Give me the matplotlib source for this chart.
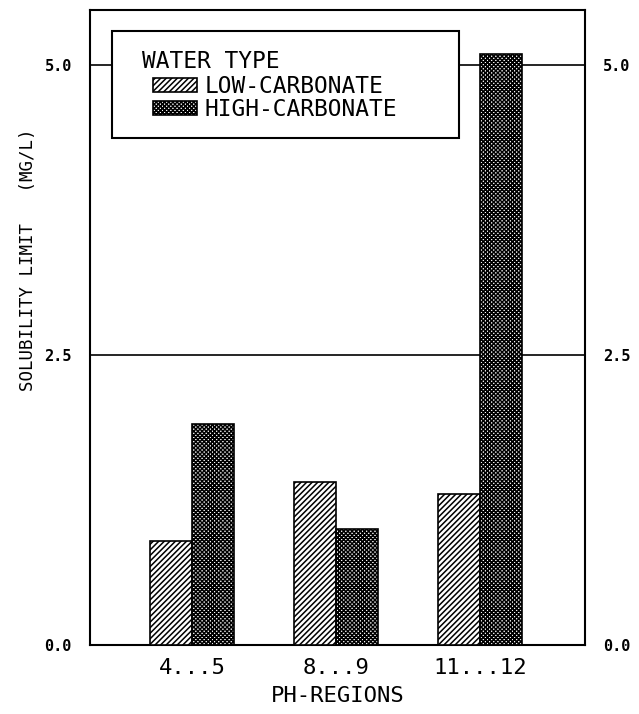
import numpy as np
import matplotlib.pyplot as plt
from matplotlib.patches import Rectangle

regions = ['4...5', '8...9', '11...12']
low_carbonate = [0.90, 1.40, 1.30]
high_carbonate = [1.90, 1.00, 5.09]
series_names = ['LOW-CARBONATE', 'HIGH-CARBONATE']
yticks = [0.0, 2.5, 5.0]

plt.rcParams['hatch.linewidth'] = 1.1
mono = 'DejaVu Sans Mono'

fig = plt.figure(figsize=(6.39, 7.14), dpi=100)
ax = fig.add_axes([0.1408, 0.0966, 0.7746, 0.8894])

x = np.arange(1, len(regions) + 1)
w = 0.29
b1 = ax.bar(x - w / 2, low_carbonate, w, color='white', edgecolor='black',
            hatch='//////', linewidth=1.2, zorder=3, label=series_names[0])
b2 = ax.bar(x + w / 2, high_carbonate, w, color='white', edgecolor='black',
            hatch='xxxxxxxx', linewidth=1.2, zorder=3, label=series_names[1])

ax.set_xlim(0.29, 3.73)
ax.set_ylim(0, 5.47)

# horizontal reference lines at the labelled values
for v in yticks[1:]:
    ax.axhline(v, color='black', lw=1.2, zorder=1)

ax.set_yticks(yticks)
ax.set_yticklabels(['%.1f' % v for v in yticks], fontsize=11,
                   fontweight='bold', family=mono)
ax.tick_params(axis='y', length=0, pad=13, labelright=True, right=True)
ax.set_xticks(x)
ax.set_xticklabels(regions, fontsize=16, family=mono)
ax.tick_params(axis='x', length=0, pad=9)
for s in ax.spines.values():
    s.set_linewidth(1.5)

ax.set_xlabel('PH-REGIONS', fontsize=16, family=mono, labelpad=6)
fig.text(0.044, 0.636, 'SOLUBILITY LIMIT   (MG/L)', rotation=90,
         ha='center', va='center', fontsize=12.5, family=mono)

# legend box
box = Rectangle((112 / 639, 1 - 138 / 714), (459 - 112) / 639, (138 - 31) / 714,
                transform=fig.transFigure, facecolor='white',
                edgecolor='black', lw=1.5, zorder=5, clip_on=False)
ax.add_patch(box)
fig.text(142 / 639, 1 - 62 / 714, 'WATER TYPE', ha='left', va='center',
         family=mono, fontsize=16.5, zorder=7)
leg = ax.legend(handles=[b1, b2], loc='upper left',
                bbox_to_anchor=(153 / 639, 1 - 75 / 714),
                bbox_transform=fig.transFigure, frameon=False,
                prop={'family': mono, 'size': 16.5},
                handlelength=1.9, handleheight=0.6, handletextpad=0.35,
                labelspacing=0.0, borderpad=0, borderaxespad=0)
leg.set_zorder(6)

fig.savefig('out.png', dpi=100)
